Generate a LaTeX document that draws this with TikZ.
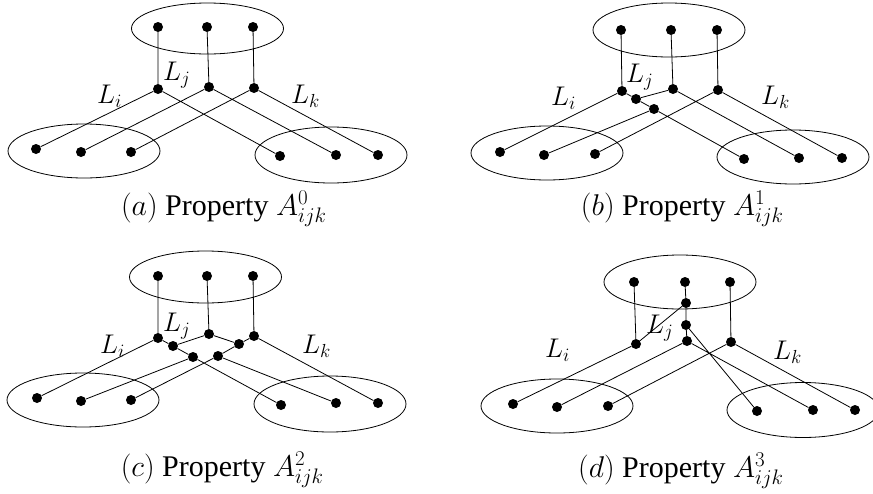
\documentclass[tikz,border=0pt]{standalone}
\usepackage{fix-cm}
\usepackage[no-math]{fontspec}
\setmainfont{Liberation Serif}
\usetikzlibrary{shapes.geometric}
\begin{document}
\begin{tikzpicture}[x=1pt,y=-1pt,
  dot/.style={circle,fill=black,inner sep=0pt,minimum size=10pt},
  grp/.style={ellipse,draw=black,line width=0.8pt,inner sep=0pt,minimum width=152pt,minimum height=54pt},
  conn/.style={draw=black,line width=0.8pt},
  lab/.style={inner sep=0pt,anchor=base west,font=\fontsize{27}{32}\selectfont},
  captxt/.style={inner sep=0pt,anchor=base west,font=\fontsize{30}{36}\selectfont}]
\useasboundingbox (0,0) rectangle (873,493);
% ---------------- panel (a)
\node[grp,minimum height=51pt] (aTE) at (207.5,28.5) {};
\node[grp] (aBL) at (84,151) {};
\node[grp,minimum height=56pt] (aBR) at (331,155) {};
\node[dot] (at1) at (158,27) {};
\node[dot] (at2) at (207,27) {};
\node[dot] (at3) at (253,27) {};
\node[dot] (am1) at (158,89) {};
\node[dot] (am2) at (209,87) {};
\node[dot] (am3) at (254,88) {};
\node[dot] (al1) at (36,149) {};
\node[dot] (al2) at (81,152) {};
\node[dot] (al3) at (131,152) {};
\node[dot] (ar1) at (280,156) {};
\node[dot] (ar2) at (336,155) {};
\node[dot] (ar3) at (378,155) {};
\path[conn] (at1)--(am1) (at2)--(am2) (at3)--(am3)
  (am1)--(al1) (am1)--(ar1) (am2)--(al2) (am2)--(ar2) (am3)--(al3) (am3)--(ar3);
\node[lab] (aLi) at (97,103) {$L_i$};
\node[lab] (aLj) at (163,80) {$L_j$};
\node[lab] (aLk) at (291,103) {$L_k$};
\node[captxt] (acap) at (165,215) {\llap{$(a)$\ }Property $A^0_{ijk}$};
% ---------------- panel (b)
\node[grp] (bTE) at (669,30) {};
\node[grp] (bBL) at (547,153) {};
\node[grp] (bBR) at (793,157) {};
\node[dot] (bt1) at (621,30) {};
\node[dot] (bt2) at (671,30) {};
\node[dot] (bt3) at (717,30) {};
\node[dot] (bm1) at (622,91) {};
\node[dot] (bm2) at (673,89) {};
\node[dot] (bm3) at (718,90) {};
\node[dot] (bx1) at (636,99) {};
\node[dot] (bx2) at (654,109) {};
\node[dot] (bl1) at (500,152) {};
\node[dot] (bl2) at (544,155) {};
\node[dot] (bl3) at (595,154) {};
\node[dot] (br1) at (744,159) {};
\node[dot] (br2) at (799,158) {};
\node[dot] (br3) at (842,158) {};
\path[conn] (bt1)--(bm1) (bt2)--(bm2) (bt3)--(bm3)
  (bm1)--(bl1) (bm1)--(bx1) (bx1)--(bx2) (bx2)--(br1) (bm2)--(bx1) (bx2)--(bl2)
  (bm2)--(br2) (bm3)--(bl3) (bm3)--(br3);
\node[lab] (bLi) at (551,105) {$L_i$};
\node[lab] (bLj) at (626,82) {$L_j$};
\node[lab] (bLk) at (761,104) {$L_k$};
\node[captxt] (bcap) at (622,215) {\llap{$(b)$\ }Property $A^1_{ijk}$};
% ---------------- panel (c)
\node[grp,minimum height=52pt] (cTE) at (205.5,277) {};
\node[grp] (cBL) at (83,400) {};
\node[grp,minimum height=56pt] (cBR) at (330,404) {};
\node[dot] (ct1) at (158,276) {};
\node[dot] (ct2) at (207,276) {};
\node[dot] (ct3) at (253,276) {};
\node[dot] (cm1) at (158,338) {};
\node[dot] (cm2) at (209,334) {};
\node[dot] (cm3) at (254,336) {};
\node[dot] (cx1) at (173,346) {};
\node[dot] (cx2) at (193,357) {};
\node[dot] (cx3) at (239,344) {};
\node[dot] (cx4) at (218,356) {};
\node[dot] (cl1) at (37,398) {};
\node[dot] (cl2) at (81,401) {};
\node[dot] (cl3) at (131,400) {};
\node[dot] (cr1) at (281,405) {};
\node[dot] (cr2) at (336,403) {};
\node[dot] (cr3) at (378,403) {};
\path[conn] (ct1)--(cm1) (ct2)--(cm2) (ct3)--(cm3)
  (cm1)--(cl1) (cm1)--(cx1) (cx1)--(cx2) (cx2)--(cr1)
  (cm2)--(cx1) (cm2)--(cx3) (cx2)--(cl2) (cx4)--(cr2)
  (cm3)--(cx3) (cx3)--(cx4) (cx4)--(cl3) (cm3)--(cr3);
\node[lab] (cLi) at (100,353) {$L_i$};
\node[lab] (cLj) at (163,331) {$L_j$};
\node[lab] (cLk) at (302,353) {$L_k$};
\node[captxt] (ccap) at (162,476) {\llap{$(c)$\ }Property $A^2_{ijk}$};
% ---------------- panel (d)
\node[grp] (dTE) at (680,282) {};
\node[grp] (dBL) at (557,406) {};
\node[grp,minimum height=55pt] (dBR) at (803,410) {};
\node[dot] (dt1) at (634,282) {};
\node[dot] (dt2) at (685,282) {};
\node[dot] (dt3) at (730,282) {};
\node[dot] (dxa) at (686,303) {};
\node[dot] (dxb) at (686,325) {};
\node[dot] (dm1) at (636,344) {};
\node[dot] (dm2) at (687,341) {};
\node[dot] (dm3) at (731,342) {};
\node[dot] (dl1) at (513,404) {};
\node[dot] (dl2) at (557,407) {};
\node[dot] (dl3) at (608,406) {};
\node[dot] (dr1) at (757,411) {};
\node[dot] (dr2) at (813,410) {};
\node[dot] (dr3) at (855,410) {};
\path[conn] (dt1)--(dm1) (dt2)--(dxa) (dxa)--(dxb) (dxb)--(dm2) (dt3)--(dm3)
  (dxa)--(dm1) (dxb)--(dr1)
  (dm1)--(dl1) (dm2)--(dl2) (dm2)--(dr2) (dm3)--(dl3) (dm3)--(dr3);
\node[lab] (dLi) at (545,357) {$L_i$};
\node[lab] (dLj) at (646,333) {$L_j$};
\node[lab] (dLk) at (773,359) {$L_k$};
\node[captxt] (dcap) at (622,477) {\llap{$(d)$\ }Property $A^3_{ijk}$};
\end{tikzpicture}
\end{document}
